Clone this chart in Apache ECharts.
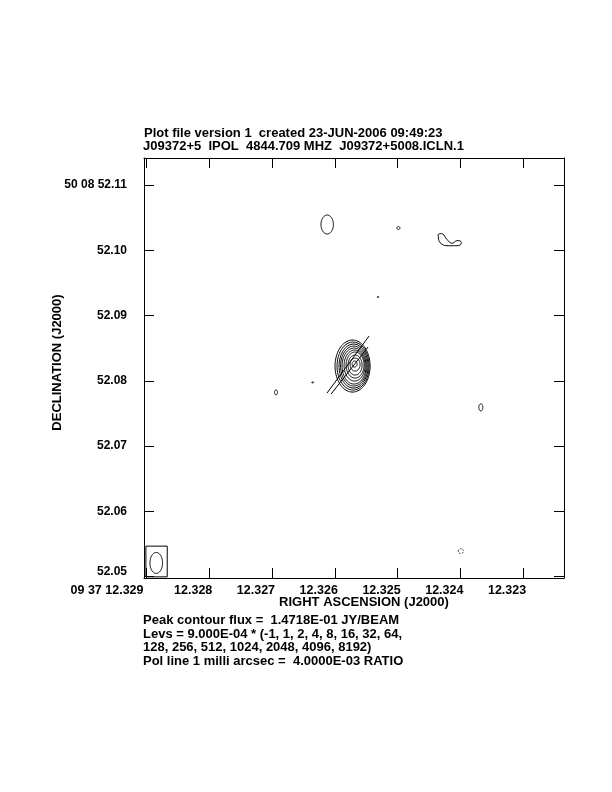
<!DOCTYPE html>
<html><head><meta charset="utf-8">
<script src="https://cdn.jsdelivr.net/npm/echarts@6/dist/echarts.min.js"></script>
<style>html,body{margin:0;padding:0;background:#fff}#c{width:612px;height:792px}</style>
</head><body><div id="c"></div>
<script>
// ---- axes ----
const raTicks = [12.329, 12.328, 12.327, 12.326, 12.325, 12.324, 12.323];
const raTickLabels = ['09 37 12.329', '12.328', '12.327', '12.326', '12.325', '12.324', '12.323'];
const decTicks = [52.05, 52.06, 52.07, 52.08, 52.09, 52.10, 52.11];
const decTickLabels = ['52.05', '52.06', '52.07', '52.08', '52.09', '52.10', '50 08 52.11'];
const raRange = [12.32235, 12.32904];
const decRange = [52.0498, 52.11414];

// ---- contours: [RA centre (s), Dec centre (arcsec), RA semi-axis (s), Dec semi-axis (arcsec)] ----
const mainContours = [
  [12.325718, 52.082268, 0.000279, 0.003985],
  [12.325710, 52.082268, 0.000255, 0.003678],
  [12.325702, 52.082268, 0.000231, 0.003372],
  [12.325698, 52.082268, 0.000211, 0.003065],
  [12.325694, 52.082268, 0.000191, 0.002759],
  [12.325686, 52.082345, 0.000167, 0.002375],
  [12.325678, 52.082421, 0.000143, 0.001992],
  [12.325678, 52.082421, 0.000112, 0.001533],
  [12.325678, 52.082498, 0.0000797, 0.000996],
  [12.325686, 52.082575, 0.0000398, 0.00046]
];
const smallContours = [
  [12.326122, 52.103954, 0.0000988, 0.001456],
  [12.324988, 52.103418, 0.000024, 0.00023],
  [12.325312, 52.092843, 0.000012, 0.0001],
  [12.326938, 52.078238, 0.000024, 0.00038],
  [12.326353, 52.07977, 0.000016, 0.00008],
  [12.323675, 52.075939, 0.000032, 0.00054]
];
const negativeContours = [
  [12.323994, 52.053916, 0.00004, 0.00038]
];
const irregularContour = [
  [12.324351, 52.102452], [12.324281, 52.102498], [12.324217, 52.101686], [12.324137, 52.101073],
  [12.324057, 52.101471], [12.323989, 52.101318], [12.324005, 52.100812], [12.324112, 52.100705],
  [12.324191, 52.100705], [12.324271, 52.100812], [12.324335, 52.101318], [12.324351, 52.102084]
];
// polarization vectors: [RA1, Dec1, RA2, Dec2]
const polVectors = [
  [12.326125, 52.07813, 12.325455, 52.086866],
  [12.326061, 52.077977, 12.325471, 52.08518]
];
const beamEllipse = [[12.328845, 52.052107, 0.0001004, 0.001609]];
const beamBox = [[12.3290096, 12.32867, 52.049977, 52.054682]];

const FONT = '"Liberation Sans", Arial, Helvetica, sans-serif';
const chart = echarts.init(document.getElementById('c'));

function labelFor(v, ticks, labels) {
  let best = 0;
  for (let i = 1; i < ticks.length; i++) if (Math.abs(ticks[i] - v) < Math.abs(ticks[best] - v)) best = i;
  return labels[best];
}
function ellipseItem(dashed) {
  return function (params, api) {
    const c = api.value(0), d = api.value(1), a = api.value(2), b = api.value(3);
    const pts = [];
    for (let k = 0; k <= 90; k++) {
      const t = k / 90 * 2 * Math.PI;
      pts.push(api.coord([c + a * Math.cos(t), d + b * Math.sin(t)]));
    }
    return { type: 'polyline', shape: { points: pts },
      style: { stroke: '#000', lineWidth: 1, fill: null, lineDash: dashed ? [1.5, 1.5] : null } };
  };
}
const tickStyle = { color: '#000', width: 1 };
const lblFont = { color: '#000', fontFamily: FONT, fontSize: 12.5, fontWeight: 'bold' };
function xAx(pos, showLabel) {
  return {
    type: 'value', position: pos, min: raRange[0], max: raRange[1], inverse: true,
    axisLine: { show: true, onZero: false, lineStyle: tickStyle },
    axisTick: { show: true, inside: true, length: 10, customValues: raTicks, lineStyle: tickStyle },
    axisLabel: Object.assign({ show: showLabel, customValues: raTicks, align: 'right', margin: 6,
      formatter: v => { const s = labelFor(v, raTicks, raTickLabels); return s === raTickLabels[0] ? '{f|' + s + '}' : '{r|' + s + '}'; },
      rich: { r: Object.assign({ padding: [0, -3, 0, 0] }, lblFont), f: Object.assign({ padding: [0, 3, 0, 0] }, lblFont) } }, lblFont),
    splitLine: { show: false }
  };
}
function yAx(pos, showLabel) {
  return {
    type: 'value', position: pos, min: decRange[0], max: decRange[1],
    axisLine: { show: true, onZero: false, lineStyle: tickStyle },
    axisTick: { show: true, inside: true, length: 10, customValues: decTicks, lineStyle: tickStyle },
    axisLabel: { show: showLabel, customValues: decTicks, margin: 17,
      color: '#000', fontFamily: FONT, fontSize: 12, fontWeight: 'bold',
      formatter: v => { const s = labelFor(v, decTicks, decTickLabels); return s === decTickLabels[0] ? '{low|' + s + '}' : s; },
      rich: { low: { padding: [0, 0, 10, 0], color: '#000', fontFamily: FONT, fontSize: 12, fontWeight: 'bold' } } },
    splitLine: { show: false }
  };
}
const txt = (text, x, y, extra) => Object.assign({ type: 'text', x: x, y: y,
  style: Object.assign({ text: text, fill: '#000', font: 'bold 13px ' + FONT, textAlign: 'left', textVerticalAlign: 'middle' }, extra || {}) });

chart.setOption({
  animation: false,
  backgroundColor: '#fff',
  grid: { left: 144, top: 158, width: 420, height: 420, containLabel: false },
  xAxis: [xAx('bottom', true), xAx('top', false)],
  yAxis: [yAx('left', true), yAx('right', false)],
  graphic: [
    txt('Plot file version 1  created 23-JUN-2006 09:49:23', 144, 133.5),
    txt('J09372+5  IPOL  4844.709 MHZ  J09372+5008.ICLN.1', 143, 146),
    txt('Peak contour flux =  1.4718E-01 JY/BEAM', 143, 620.5),
    txt('Levs = 9.000E-04 * (-1, 1, 2, 4, 8, 16, 32, 64,', 143, 634),
    txt('128, 256, 512, 1024, 2048, 4096, 8192)', 143, 647.5),
    txt('Pol line 1 milli arcsec =  4.0000E-03 RATIO', 143, 661),
    txt('RIGHT ASCENSION (J2000)', 364, 602.5, { textAlign: 'center' }),
    Object.assign(txt('DECLINATION (J2000)', 57, 362.5, { textAlign: 'center' }), { rotation: Math.PI / 2 })
  ],
  series: [
    { type: 'custom', name: 'main', data: mainContours, renderItem: ellipseItem(false), silent: true },
    { type: 'custom', name: 'small', data: smallContours, renderItem: ellipseItem(false), silent: true },
    { type: 'custom', name: 'neg', data: negativeContours, renderItem: ellipseItem(true), silent: true },
    { type: 'custom', name: 'beam', data: beamEllipse, renderItem: ellipseItem(false), silent: true },
    { type: 'custom', name: 'irregular', data: [0], silent: true,
      renderItem: (p, api) => ({ type: 'polygon', shape: { points: irregularContour.map(q => api.coord(q)), smooth: 0.4 },
        style: { stroke: '#000', lineWidth: 1, fill: null } }) },
    { type: 'custom', name: 'pol', data: polVectors, silent: true,
      renderItem: (p, api) => {
        const a = api.coord([api.value(0), api.value(1)]), b = api.coord([api.value(2), api.value(3)]);
        return { type: 'line', shape: { x1: a[0], y1: a[1], x2: b[0], y2: b[1] }, style: { stroke: '#000', lineWidth: 1 } };
      } },
    { type: 'custom', name: 'beambox', data: beamBox, silent: true,
      renderItem: (p, api) => {
        const a = api.coord([api.value(0), api.value(3)]), b = api.coord([api.value(1), api.value(2)]);
        return { type: 'rect', shape: { x: a[0], y: a[1], width: b[0] - a[0], height: b[1] - a[1] },
          style: { stroke: '#000', lineWidth: 1, fill: null } };
      } }
  ]
});
</script></body></html>
